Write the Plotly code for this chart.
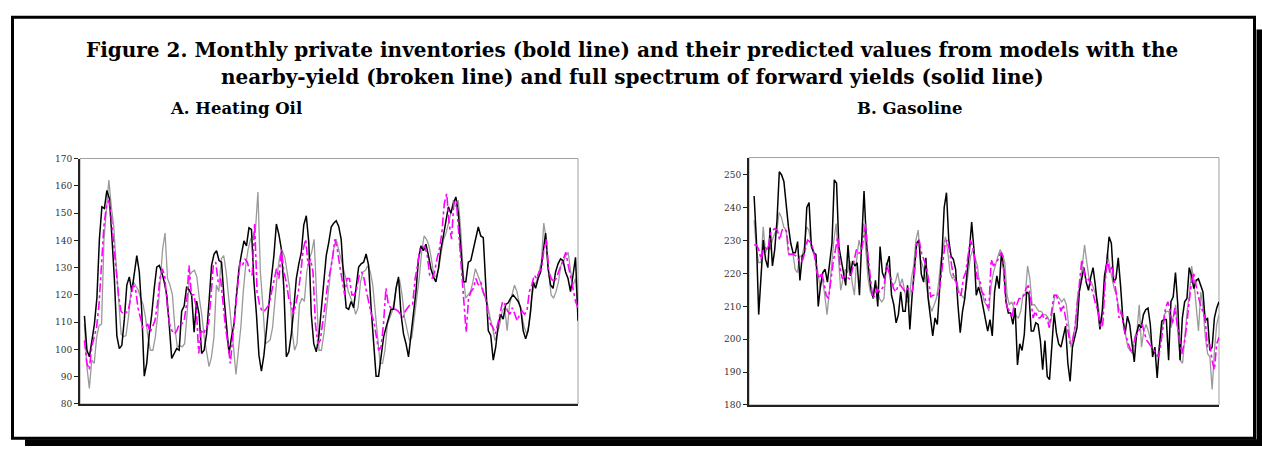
import numpy as np
import plotly.graph_objects as go

W, H = 1262, 452

# ---------------- data ----------------
ho_actual = [112.3, 99.7, 97.3, 102.7, 109.3, 118.9, 140.4, 152.3, 151.7, 158.3, 155.3, 141.6, 126, 105, 100.3,
             101.5, 111, 123.6, 126.6, 121.2, 128.4, 134.4, 128.4, 114, 90.2, 95, 105.7, 112.9, 122.4, 130.2,
             130.8, 128.4, 124.8, 120, 109.3, 96.7, 98.5, 100.3, 99.7, 114, 115.9, 123, 121.8, 120, 106.3, 117.7,
             112.9, 98.5, 99.7, 105.7, 117.7, 130.8, 135, 136.2, 132.6, 132, 118.9, 106.9, 98.5, 104.5, 109.3,
             120, 129.6, 135, 139.8, 138, 144.6, 144, 124.8, 112.9, 97.9, 92, 97.9, 106.9, 117.7, 126, 134.4, 146,
             142.2, 136.8, 122.4, 97.3, 99.1, 105.7, 115.3, 126, 131.4, 135.6, 145.7, 149, 139.2, 112.9, 102.1,
             99.1, 104.5, 114.1, 122.4, 134.4, 139.2, 144.9, 146.3, 147.2, 145.1, 140.4, 126, 115.3, 114.7, 117.6,
             115.3, 123.6, 130.2, 131.4, 132, 135, 130.8, 115.3, 102.1, 90.2, 90.2, 97.3, 104.5, 108.1, 111.1,
             114.7, 114.7, 122.4, 126.6, 112.9, 105.7, 102.1, 97.3, 105.7, 114.1, 121.2, 133.2, 138, 136.2, 138.6,
             134.4, 129.6, 126.6, 124.8, 129.6, 136.8, 141.6, 147.5, 152.3, 149.9, 153.5, 155.9, 149.9, 136.8,
             124.8, 124.8, 132, 132.6, 136.8, 140.4, 144.9, 141.6, 141, 123.6, 106.9, 105.1, 96.1, 100.9, 109.3,
             112.9, 111.1, 116.5, 117.1, 118.8, 120, 118.8, 117.6, 115.3, 106.9, 103.9, 106.9, 114.1, 124.8, 122.4,
             126, 128.4, 136.8, 142.7, 129.6, 123.6, 122.4, 128.4, 131.4, 133.2, 132.6, 128.4, 126, 121.2, 127.2,
             133.8, 110.5]

ho_full = [109.3, 93.7, 85.7, 96.1, 94.9, 104.5, 108.7, 109.3, 140.4, 152.3, 162.1, 152.3, 145.1, 130.8, 118.8,
           105.7, 104.7, 105.1, 111.7, 121.2, 124.8, 123, 121.8, 118.8, 116.5, 111.7, 104.5, 99.7, 99.7, 104.5,
           112.9, 124.8, 136.8, 142.7, 126, 123.6, 120, 108.1, 100.9, 101.5, 100.9, 102.1, 112.9, 127.2, 128.4,
           129, 126.6, 118.8, 112.9, 104.5, 98.5, 93.7, 97.3, 104.5, 123.6, 121.2, 133.2, 134.4, 128.4, 120,
           111.7, 100.9, 90.8, 99.7, 108.1, 121.2, 130.8, 136.8, 140.4, 141.6, 143.9, 157.7, 128.4, 116.5, 102.1,
           102.7, 103.5, 108.1, 117.6, 128.4, 134.4, 136.2, 133.8, 128.4, 122.4, 106.9, 99.7, 102.1, 116.5, 118.8,
           117.6, 128.4, 133.2, 135.6, 140.4, 120, 99.7, 99.7, 105.7, 114.1, 123.6, 130.8, 136.8, 140.4, 136.8,
           133.2, 129.6, 126, 121.2, 118.8, 116.5, 112.9, 115.3, 124.8, 128.4, 129, 130.8, 128.4, 123.6, 114.1,
           104.5, 94.9, 94.9, 99.7, 109.3, 111.7, 114.1, 118.8, 124.8, 125.4, 120, 111.7, 106.9, 103.3, 104.5,
           111.7, 120, 126, 135.6, 141.6, 140.4, 138, 133.2, 127.2, 126.6, 129.6, 135.6, 140.4, 142.7, 146.3,
           149.9, 154.7, 152.3, 154.7, 143.9, 128.4, 118.8, 120, 121.2, 124.8, 129.6, 127.2, 124.8, 121.2, 118.8,
           116.5, 111.7, 108.1, 103.3, 105.7, 109.3, 114.1, 115.3, 106.9, 116.5, 120, 123.6, 121.2, 116.5, 112.9,
           108.1, 105.7, 109.3, 118.8, 123.6, 124.8, 128.4, 132, 146.3, 140.4, 128.4, 120, 118.8, 121.2, 124.8,
           130.8, 132, 134.4, 135.6, 128.4, 123.6, 126, 114.1]

ho_nearby = [103.3, 94.9, 92.6, 100.9, 104.5, 108.1, 116.5, 133.2, 145.1, 152.3, 154.7, 148.7, 139.2, 129.6, 120,
             114.1, 112.9, 113.5, 114.1, 118.8, 123.6, 122.4, 115.3, 111.7, 108.1, 108.1, 109.3, 106.3, 108.1,
             110.5, 116.5, 126, 129.6, 127.2, 116.5, 109.3, 106.9, 105.7, 106.9, 109.3, 109.3, 110.5, 116.5, 130.8,
             120, 120, 115.3, 98.5, 106.9, 105.7, 108.1, 109.3, 118.8, 130.8, 132, 124.8, 126, 116.5, 108.1, 102.1,
             94.9, 104.5, 112.9, 121.2, 132, 130.8, 133.2, 132, 128.4, 127.2, 146.3, 121.2, 116.5, 114.1, 114.1,
             115.3, 116.5, 121.2, 126, 129.6, 126, 136.8, 128.4, 124.8, 118.8, 116.5, 112.9, 116.5, 121.2, 128.4,
             136.8, 140.4, 130.8, 133.2, 128.4, 109.3, 102.1, 103.3, 109.3, 116.5, 123.6, 128.4, 133.2, 140.4,
             136.8, 130.8, 124.8, 120, 126, 126, 120, 120, 122.4, 127.2, 128.4, 126, 121.2, 116.5, 112.9, 110.5,
             104.5, 99.7, 100.9, 109.3, 122.4, 116.5, 115.3, 114.7, 114.7, 114.1, 112.9, 111.7, 114.1, 115.3, 116.5,
             116.5, 126, 130.8, 136.8, 136.8, 138, 134.4, 127.2, 126, 128.4, 133.2, 136.8, 142.7, 153.5, 157.1,
             146.3, 140.4, 154.7, 154.1, 142.7, 130.8, 118.8, 106.3, 118.8, 121.2, 122.4, 126, 123.6, 124.8, 121.2,
             118.8, 112.9, 109.3, 108.1, 105.7, 109.3, 114.1, 117.6, 116.5, 114.1, 112.9, 115.3, 112.9, 110.5,
             112.9, 114.1, 112.9, 114.1, 121.2, 123.6, 127.2, 126, 128.4, 129.6, 136.8, 140.4, 128.4, 126, 124.8,
             126, 128.4, 130.8, 133.2, 135.6, 130.8, 126, 121.2, 117.6, 115.3]

ga_actual = [243.6, 230.2, 207.5, 218.4, 230.2, 224.3, 221.8, 234, 222.3, 227.3, 236.2, 251, 250, 248, 240.1,
             234.2, 229.2, 226.3, 226.3, 229.7, 217.9, 225.3, 226.3, 240.1, 241.6, 228.2, 226.3, 225.8, 210, 216.4,
             220.3, 221.3, 217.4, 223.3, 229.2, 248.5, 247.5, 228.2, 224.3, 220.3, 216.4, 228.7, 219.3, 223.8,
             222.3, 223.3, 213.4, 230.2, 245.1, 230.2, 221.3, 215.4, 212.4, 217.9, 210, 228.2, 220.3, 218.4, 222.8,
             225.3, 213.4, 210.5, 205, 207.5, 214.4, 208.5, 208.5, 216.4, 203, 213.4, 220.3, 229.2, 230.2, 219.8,
             217.4, 224.8, 212.4, 206.5, 201, 206.5, 204.5, 215.4, 225.3, 240.1, 244.6, 230.2, 225.3, 224.3, 221.3,
             210.5, 202, 208.5, 212.4, 220.3, 226.8, 235.7, 227.3, 213.4, 215.9, 213.4, 209.5, 206, 202.5, 206,
             201, 214.4, 219.3, 215.4, 226.3, 221.3, 211.4, 208, 208, 204.5, 209.5, 192.2, 198.6, 196.6, 201.6,
             214.4, 213.9, 202.5, 202.5, 205, 204.5, 199.6, 190.7, 199.6, 188.7, 187.7, 196.6, 208, 202, 198.6,
             197.6, 200.6, 204, 192.7, 187.2, 197.6, 200.6, 203.5, 214.4, 218.4, 221.8, 217.4, 214.9, 218.9, 221.8,
             216.4, 209.5, 203, 208.5, 219.3, 223.3, 231.2, 229.2, 217.4, 218.4, 224.8, 216.4, 206.5, 201.6, 207,
             204.5, 198.6, 193.1, 201.6, 204.5, 203.5, 207.5, 209, 209.5, 204.5, 194.6, 197.6, 188.2, 198.1, 205.5,
             206, 206, 193.6, 211.4, 212.9, 220.3, 210.5, 193.6, 206.5, 211.4, 212.4, 221.8, 219.3, 215.4, 217.9,
             218.4, 216.4, 214.4, 205.5, 206.5, 196.6, 197.6, 206.5, 209.5, 211.4]

ga_full = [236.2, 227.3, 223.3, 223.3, 234.2, 226.3, 228.2, 227.3, 230.2, 232.2, 233.2, 238.6, 237.1, 234.2,
           233.2, 226.3, 225.8, 226.3, 221.3, 220.3, 225.3, 225.3, 228.2, 234.2, 233.2, 229.2, 227.3, 223.8, 220.3,
           215.4, 218.4, 213.4, 207.5, 214.4, 222.3, 230.2, 235.2, 225.3, 214.9, 218.4, 221.3, 220.3, 223.8, 217.4,
           213.4, 224.3, 230.2, 227.3, 235.2, 227.3, 218.4, 214.4, 213.4, 216.4, 215.9, 212.4, 211.4, 212.4, 223.3,
           222.3, 217.4, 216.4, 217.4, 220.3, 216.4, 218.4, 215.4, 211.4, 211.4, 218.4, 222.3, 230.2, 233.2,
           224.3, 222.3, 219.3, 214.4, 210.5, 208.5, 210.5, 212.4, 217.4, 224.3, 228.2, 231.2, 226.3, 220.3, 218.4,
           219.3, 217.4, 214.4, 213.4, 212.4, 215.4, 220.3, 225.3, 227.3, 224.3, 222.3, 216.4, 214.4, 211.4,
           210.5, 208.5, 216.4, 220.3, 223.3, 225.3, 227.3, 225.8, 223.3, 213.4, 210.5, 211.4, 209.5, 207, 206.5,
           208.5, 213.4, 213.4, 222.3, 218.4, 210.5, 210.5, 209.5, 208.5, 208.5, 207.5, 207.5, 206.5, 204.5,
           209.5, 213.4, 213.4, 212.4, 211.4, 212.4, 210.5, 204.5, 197.6, 200.6, 204.5, 213.4, 216.4, 222.3,
           228.7, 223.3, 218.4, 217.4, 215.4, 213.4, 210.5, 204.5, 208.5, 218.4, 226.3, 222.3, 218.4, 215.4,
           213.4, 209.5, 208.5, 204.5, 201.6, 197.6, 196.6, 195.6, 200.6, 202.5, 210.5, 197.6, 202.5, 204.5,
           202.5, 199.6, 196.6, 195.6, 194.6, 198.6, 203.5, 207.5, 208.5, 208.5, 203.5, 207.5, 210.5, 201.6,
           193.6, 192.7, 200.6, 208.5, 213.4, 222.3, 217.4, 210.5, 202.5, 214.4, 209.5, 200.6, 195.6, 194.6,
           184.7, 196.6, 204.5, 207.5]

ga_nearby = [228.7, 228.7, 227.3, 224.3, 227.3, 227.8, 227.3, 232.2, 233.2, 233.7, 233.2, 230.2, 233.2, 233.7,
             232.7, 225.8, 225.8, 225.8, 225.3, 224.3, 223.3, 224.3, 227.3, 230.2, 229.7, 228.2, 225.3, 220.3,
             218.4, 220.3, 217.4, 213.4, 212.4, 218.4, 223.3, 227.3, 231.2, 221.3, 218.4, 219.3, 218.9, 218.4,
             220.3, 223.3, 227.3, 226.3, 226.3, 230.2, 235.2, 225.3, 218.4, 212.4, 213.4, 215.4, 214.4, 215.4,
             216.4, 222.3, 220.3, 218.4, 215.4, 214.4, 216.4, 216.4, 215.4, 214.4, 215.4, 215.4, 214.4, 220.3,
             229.2, 230.2, 226.3, 224.3, 222.3, 218.4, 212.9, 213.4, 213.4, 213.4, 216.4, 222.3, 228.2, 230.2,
             227.3, 222.3, 218.4, 217.4, 213.4, 213.4, 218.4, 220.3, 225.3, 230.2, 228.2, 224.3, 218.4, 218.4,
             214.4, 213.4, 210.5, 209.5, 224.3, 222.3, 223.3, 224.3, 226.3, 225.3, 213.4, 209.5, 208.5, 206.5,
             211.4, 210.5, 212.4, 212.4, 213.4, 215.4, 216.4, 212.4, 206.5, 208.5, 206.5, 206.5, 207.5, 206,
             206.5, 203.5, 208.5, 213.4, 213.4, 211.4, 208.5, 210.5, 206.5, 202.5, 198.6, 199.6, 203.5, 210.5,
             217.4, 224.3, 220.3, 217.4, 218.4, 215.4, 213.4, 210.5, 208.5, 203.5, 204.5, 217.4, 224.3, 220.3,
             222.3, 217.4, 213.4, 206.5, 208.5, 203.5, 200.6, 198.6, 196.6, 196.6, 200.6, 201.6, 203.5, 204.5,
             201.6, 199.6, 198.6, 197.6, 196.6, 195.6, 194.6, 198.6, 204.5, 209.5, 211.4, 208.5, 204.5, 209.5,
             204.5, 200.6, 195.6, 198.6, 203.5, 210.5, 216.4, 220.3, 216.4, 213.4, 210.5, 208.5, 206.5, 197.6,
             198.6, 193.6, 190.7, 198.6, 200.6]

ho_ticks = [80, 90, 100, 110, 120, 130, 140, 150, 160, 170]
ga_ticks = [180, 190, 200, 210, 220, 230, 240, 250]

TITLE_1 = "Figure 2. Monthly private inventories (bold line) and their predicted values from models with the"
TITLE_2 = "nearby-yield (broken line) and full spectrum of forward yields (solid line)"
PANEL_A = "A. Heating Oil"
PANEL_B = "B. Gasoline"

# ---------------- helpers ----------------
def px(x):
    return x / W

def py(y):
    return 1 - y / H

SERIF = "DejaVu Serif, Liberation Serif, serif"

fig = go.Figure()

def tspan(vals):
    return np.linspace(0.0, 1.0, len(vals))

panels = [
    dict(xa="x", ya="y", full=ho_full, act=ho_actual, near=ho_nearby),
    dict(xa="x2", ya="y2", full=ga_full, act=ga_actual, near=ga_nearby),
]
for p in panels:
    fig.add_trace(go.Scatter(x=tspan(p["full"]), y=p["full"], xaxis=p["xa"], yaxis=p["ya"], mode="lines",
                             line=dict(color="#9a9a9a", width=1.3), showlegend=False, hoverinfo="skip"))
    fig.add_trace(go.Scatter(x=tspan(p["act"]), y=p["act"], xaxis=p["xa"], yaxis=p["ya"], mode="lines",
                             line=dict(color="#000000", width=1.5), showlegend=False, hoverinfo="skip"))
    fig.add_trace(go.Scatter(x=tspan(p["near"]), y=p["near"], xaxis=p["xa"], yaxis=p["ya"], mode="lines",
                             line=dict(color="#ff00ff", width=1.6, dash="dashdot"), showlegend=False,
                             hoverinfo="skip"))

# plot-area boxes (pixels)
A = (80, 157, 578, 408)
B = (749, 156, 1219, 409)

def yax(box, rng, ticks):
    return dict(domain=[py(box[3]), py(box[1])], range=rng, tickvals=ticks, ticks="outside", ticklen=4,
                tickwidth=1, tickcolor="#222", showline=True, linecolor="#222", linewidth=2, showgrid=False,
                zeroline=False, tickfont=dict(family=SERIF, size=9, color="#333"), fixedrange=True)

def xax(box, rng, anchor):
    return dict(domain=[px(box[0]), px(box[2])], range=rng, showticklabels=False, ticks="", showline=True,
                linecolor="#222", linewidth=2, showgrid=False, zeroline=False, anchor=anchor, fixedrange=True)

fig.update_layout(
    width=W, height=H, margin=dict(l=0, r=0, t=0, b=0),
    paper_bgcolor="white", plot_bgcolor="white",
    xaxis=xax(A, [-0.009, 1.0], "y"),
    yaxis=yax(A, [80, 170], ho_ticks) | dict(anchor="x"),
    xaxis2=xax(B, [-0.011, 1.0], "y2"),
    yaxis2=yax(B, [180, 255.3], ga_ticks) | dict(anchor="x2"),
)

shapes = []
# grey frame of the plot areas (top/right)
for box in (A, B):
    shapes.append(dict(type="rect", xref="paper", yref="paper", x0=px(box[0]), x1=px(box[2]),
                       y0=py(box[3]), y1=py(box[1]), line=dict(color="#a0a0a0", width=1), layer="below"))
# outer frame with drop shadow
shapes.append(dict(type="rect", xref="paper", yref="paper", x0=px(25), x1=px(1262), y0=py(451), y1=py(444),
                   fillcolor="black", line=dict(width=0)))
shapes.append(dict(type="rect", xref="paper", yref="paper", x0=px(1256.5), x1=px(1262), y0=py(451), y1=py(25),
                   fillcolor="black", line=dict(width=0)))
shapes.append(dict(type="rect", xref="paper", yref="paper", x0=px(12.5), x1=px(1254.5), y0=py(443), y1=py(12.5),
                   line=dict(color="black", width=3)))
fig.update_layout(shapes=shapes)

ann = []
def text(t, x, y, size):
    ann.append(dict(text="<b>" + t + "</b>", x=px(x), y=py(y), xref="paper", yref="paper", showarrow=False,
                    xanchor="center", yanchor="middle", font=dict(family=SERIF, size=size, color="black")))

text(TITLE_1, 632, 46, 20)
text(TITLE_2, 632, 74, 20)
text(PANEL_A, 236, 106, 16.5)
text(PANEL_B, 910, 106, 16.5)
fig.update_layout(annotations=ann)

fig.write_html("out.html", config={"displayModeBar": False},
               post_script="document.body.style.margin='0px';")
